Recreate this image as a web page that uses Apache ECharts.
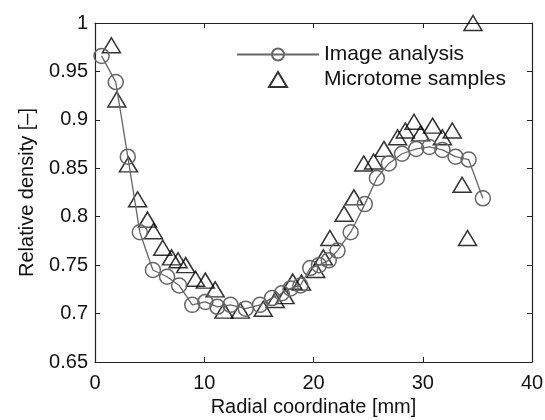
<!DOCTYPE html>
<html lang="en">
  <head>
    <meta charset="utf-8" />
    <title>Relative density</title>
    <script src="https://cdn.jsdelivr.net/npm/echarts@6/dist/echarts.min.js"></script>
    <style>
      html, body { margin: 0; padding: 0; background: #fff; }
      #main { width: 545px; height: 420px; }
    </style>
  </head>
  <body>
    <div id="main"></div>
    <script>
      // image analysis (circles + line)
      var imageX = [0.6, 1.9, 3.0, 4.1, 5.3, 6.6, 7.7, 8.9, 10.1, 11.2, 12.4, 13.8, 15.1, 16.2,
        17.1, 17.9, 18.8, 19.7, 20.5, 21.4, 22.2, 23.4, 24.7, 25.8, 26.9, 28.1, 29.4, 30.6,
        31.8, 33.0, 34.2, 35.5];
      var imageY = [0.966, 0.939, 0.862, 0.784, 0.745, 0.738, 0.729, 0.709, 0.712, 0.707, 0.709,
        0.705, 0.709, 0.716, 0.721, 0.726, 0.729, 0.747, 0.750, 0.755, 0.765, 0.784, 0.813,
        0.840, 0.855, 0.865, 0.870, 0.872, 0.869, 0.862, 0.859, 0.819];

      // microtome samples (triangles)
      var microX = [1.5, 2.0, 3.06, 3.9, 4.8, 5.35, 6.2, 7.0, 7.6, 8.3, 9.2, 10.1, 11.0, 11.8,
        13.3, 15.4, 16.5, 17.4, 18.1, 18.9, 20.2, 20.9, 21.5, 22.8, 23.7, 24.6, 25.5, 26.45,
        27.7, 28.4, 29.2, 29.8, 30.9, 31.8, 32.7, 33.6, 34.1, 34.6];
      var microY = [0.977, 0.921, 0.854, 0.818, 0.797, 0.785, 0.768, 0.758, 0.755, 0.750, 0.736,
        0.734, 0.725, 0.703, 0.703, 0.705, 0.714, 0.718, 0.733, 0.732, 0.745, 0.758, 0.778,
        0.803, 0.820, 0.855, 0.857, 0.870, 0.882, 0.889, 0.898, 0.886, 0.894, 0.882, 0.889,
        0.833, 0.778, 1.0];

      var xTicks = [0, 40, 10];
      var yTicks = [0.65, 1, 0.05];

      var font = "Liberation Sans";
      var axisColor = "#222";

      var imageData = imageX.map(function (x, i) { return [x, imageY[i]]; });
      var microData = microX.map(function (x, i) { return [x, microY[i]]; });

      var myChart = echarts.init(document.getElementById("main"), null, { renderer: "canvas" });

      function xAxisOpt(pos, show) {
        return {
          type: "value",
          position: pos,
          min: xTicks[0],
          max: xTicks[1],
          interval: xTicks[2],
          name: show ? "Radial coordinate [mm]" : "",
          nameLocation: "middle",
          nameGap: 31,
          nameTextStyle: { fontFamily: font, fontSize: 20, color: "#111" },
          axisLine: { show: true, onZero: false, lineStyle: { color: axisColor, width: 1.2 } },
          axisTick: { show: true, inside: true, length: 5, lineStyle: { color: axisColor } },
          axisLabel: { show: show, margin: 11, fontFamily: font, fontSize: 20, color: "#111" },
          splitLine: { show: false }
        };
      }
      function yAxisOpt(pos, show) {
        return {
          type: "value",
          position: pos,
          min: yTicks[0],
          max: yTicks[1],
          interval: yTicks[2],
          name: show ? "Relative density [\u2013]" : "",
          nameLocation: "middle",
          nameGap: 58,
          nameTextStyle: { fontFamily: font, fontSize: 20, color: "#111" },
          axisLine: { show: true, onZero: false, lineStyle: { color: axisColor, width: 1.2 } },
          axisTick: { show: true, inside: true, length: 5, lineStyle: { color: axisColor } },
          axisLabel: {
            show: show, margin: 7, fontFamily: font, fontSize: 20, color: "#111",
            formatter: function (v) { return String(+v.toFixed(2)); }
          },
          splitLine: { show: false }
        };
      }

      // legend triangle kept narrow inside the wide legend icon box
      var triIcon = "path://M0,0 M82,15 M32,15 L41,0 L50,15 Z";

      var option = {
        animation: false,
        backgroundColor: "#fff",
        grid: { left: 95, right: 13, top: 23, bottom: 58, containLabel: false, outerBoundsMode: "none" },
        legend: {
          orient: "vertical",
          left: 231,
          top: 39,
          itemWidth: 82,
          itemHeight: 15,
          itemGap: 4,
          textStyle: { fontFamily: font, fontSize: 21, color: "#111", lineHeight: 16 },
          data: [{ name: "Image analysis" }, { name: "Microtome samples", icon: triIcon }]
        },
        xAxis: [xAxisOpt("bottom", true), xAxisOpt("top", false)],
        yAxis: [yAxisOpt("left", true), yAxisOpt("right", false)],
        series: [
          {
            name: "Image analysis",
            type: "line",
            data: imageData,
            symbol: "circle",
            symbolSize: 15,
            showAllSymbol: true,
            clip: false,
            lineStyle: { color: "#666", width: 1.3 },
            itemStyle: { color: "rgba(0,0,0,0)", borderColor: "#666", borderWidth: 1.5 },
            emphasis: { disabled: true }
          },
          {
            name: "Microtome samples",
            type: "scatter",
            data: microData,
            symbol: "triangle",
            symbolSize: [18, 15],
            clip: false,
            itemStyle: { color: "rgba(0,0,0,0)", borderColor: "#000", borderWidth: 1.5 },
            emphasis: { disabled: true }
          }
        ]
      };

      myChart.setOption(option);
    </script>
  </body>
</html>
